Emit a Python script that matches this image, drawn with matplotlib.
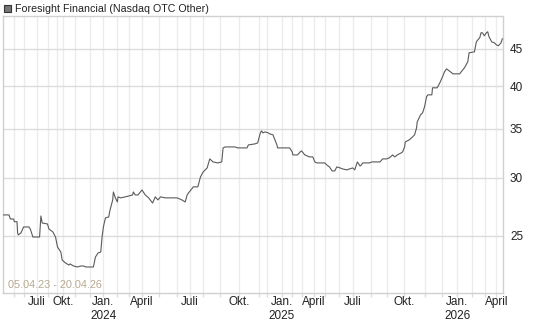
import matplotlib
matplotlib.use("Agg")
import matplotlib.pyplot as plt
from matplotlib.patches import Rectangle

# observation index (trading days since 05.04.23) and closing price
day = [0, 8, 10, 15, 16, 20, 21, 22, 26, 28, 30, 38, 40, 44, 52, 54, 56, 58, 66, 68,
       70, 74, 78, 81, 86, 88, 93, 98, 100, 105, 111, 116, 120, 124, 135, 138, 142, 146, 148, 150,
       153, 158, 160, 164, 165, 168, 171, 172, 176, 183, 194, 195, 198, 202, 208, 213, 218, 224, 228, 232,
       236, 243, 250, 261, 268, 273, 276, 278, 284, 285, 292, 296, 300, 306, 310, 315, 322, 328, 330, 333,
       340, 348, 352, 366, 368, 378, 382, 386, 388, 390, 393, 398, 400, 405, 411, 412, 430, 434, 435, 442,
       446, 448, 453, 460, 465, 468, 471, 483, 486, 490, 494, 498, 501, 506, 510, 516, 520, 525, 528, 532,
       536, 538, 540, 550, 554, 561, 566, 570, 576, 580, 585, 588, 592, 598, 600, 603, 604, 610, 615, 618,
       621, 622, 627, 630, 633, 636, 638, 644, 645, 652, 656, 658, 660, 663, 666, 668, 670, 674, 675, 686,
       688, 693, 698, 700, 708, 711, 712, 716, 718, 720, 723, 726, 728, 730, 734, 738, 741, 744, 748, 750]
price = [26.71, 26.71, 26.37, 26.37, 26.15, 26.15, 25.24, 25.08, 25.24, 25.48, 25.72, 25.72, 25.56, 24.92, 24.92, 24.92, 26.62, 26.04, 25.96, 25.56,
         25.48, 25.32, 24.92, 24.15, 23.77, 23.18, 22.97, 22.82, 22.90, 22.75, 22.68, 22.75, 22.75, 22.68, 22.68, 23.40, 23.70, 23.77, 24.92, 25.72,
         26.46, 26.54, 27.13, 28.00, 28.71, 28.18, 27.82, 28.27, 28.18, 28.27, 28.44, 28.71, 28.44, 28.44, 28.89, 28.44, 28.18, 27.73, 28.27, 28.00,
         28.27, 28.18, 28.18, 28.18, 28.00, 27.82, 28.44, 28.62, 29.07, 29.17, 29.17, 30.10, 30.57, 30.96, 31.85, 31.55, 31.45, 31.55, 32.97, 33.07,
         33.07, 33.07, 32.97, 32.97, 33.28, 33.39, 33.49, 34.56, 34.78, 34.56, 34.67, 34.56, 34.46, 34.35, 33.28, 32.97, 32.97, 32.56, 32.25, 32.25,
         32.56, 32.66, 32.25, 32.05, 32.05, 31.55, 31.45, 31.45, 31.25, 31.06, 30.67, 30.67, 31.06, 30.96, 30.86, 30.77, 30.86, 30.96, 30.77, 31.55,
         31.15, 31.25, 31.45, 31.45, 31.55, 31.55, 31.55, 31.85, 31.85, 31.95, 32.25, 32.05, 32.25, 32.46, 32.56, 33.07, 33.60, 33.81, 34.13, 34.35,
         35.11, 35.78, 36.58, 36.80, 37.51, 38.71, 38.95, 38.95, 39.82, 39.82, 40.45, 40.83, 41.22, 41.87, 42.27, 42.14, 42.00, 41.74, 41.61, 41.61,
         41.87, 42.40, 43.21, 44.45, 44.59, 46.01, 46.16, 46.60, 47.34, 47.34, 46.89, 47.34, 47.49, 46.74, 46.01, 45.87, 45.58, 45.44, 45.87, 46.45]

# first observation of each month (May 2023 .. April 2026)
month_starts = [15, 30, 50, 66, 80, 89, 108, 130,
                150, 170, 189, 208, 234, 260, 280, 300, 326, 354, 384, 396,
                418, 434, 449, 467, 484, 504, 525, 552, 576, 602, 634, 660,
                682, 705, 724, 741]
label_pos = [50, 89, 150, 208, 280, 354, 418, 467, 525, 602, 682, 741]
label_txt = ["Juli", "Okt.", "Jan.\n2024", "April", "Juli", "Okt.", "Jan.\n2025",
             "April", "Juli", "Okt.", "Jan.\n2026", "April"]
y_ticks = [25, 30, 35, 40, 45]

W, H = 545, 327
plt.rcParams['font.family'] = ['Liberation Sans', 'DejaVu Sans']
fig = plt.figure(figsize=(W / 100, H / 100), dpi=100)
ax = fig.add_axes([3 / W, 1 - 293 / H, 500 / W, 277 / H])

ax.plot(day, price, color='#5a5a5a', lw=0.8, zorder=3)
ax.set_yscale('log')
ax.set_ylim(20.9, 49.9)
ax.set_xlim(-1, 751)

for m in month_starts:
    ax.axvline(m, color='#ececec', lw=1, zorder=1)
for v in y_ticks:
    ax.axhline(v, color='#dcdcdc', lw=1, zorder=2)

ax.yaxis.tick_right()
ax.set_yticks(y_ticks)
ax.set_yticklabels([str(v) for v in y_ticks])
ax.yaxis.set_minor_locator(matplotlib.ticker.NullLocator())
ax.tick_params(axis='y', length=0, pad=5, labelsize=8.5, labelcolor='#222222')

ax.set_xticks(month_starts)
ax.set_xticklabels([])
ax.tick_params(axis='x', length=3, color='#dddddd', width=1)
for p, t in zip(label_pos, label_txt):
    ax.text(p, -0.012, t, transform=ax.get_xaxis_transform(), ha='center', va='top',
            fontsize=8.5, color='#222222', linespacing=1.15)

for s in ax.spines.values():
    s.set_color('#d0d0d0')
    s.set_linewidth(1)

ax.text(5 / 500, 0.012, "05.04.23 - 20.04.26", transform=ax.transAxes, fontsize=7.8,
        color='#b8a890', ha='left', va='bottom')

# legend square + title
fig.patches.append(Rectangle((4 / W, 1 - 12 / H), 7 / W, 7 / H, transform=fig.transFigure,
                             facecolor='#777777', edgecolor='#333333', lw=0.8))
fig.text(15 / W, 1 - 8.5 / H, "Foresight Financial (Nasdaq OTC Other)", fontsize=7.7,
         color='#222222', ha='left', va='center')

fig.savefig('out.png', dpi=100)
